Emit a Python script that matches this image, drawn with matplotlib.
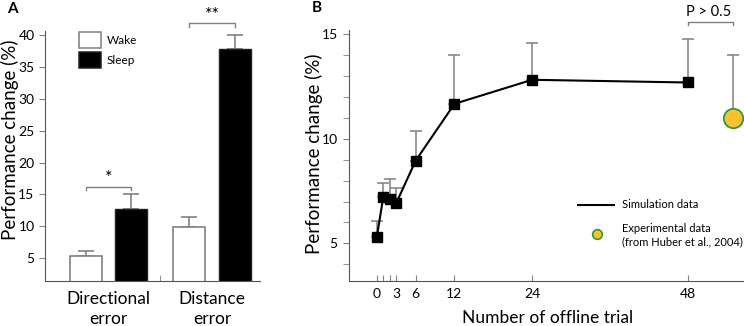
import matplotlib
import matplotlib.pyplot as plt
import numpy as np
from matplotlib.lines import Line2D
from matplotlib.patches import Rectangle

matplotlib.use("Agg")

plt.rcParams["font.family"] = ["Lato", "DejaVu Sans"]

# ---- panel A data ----
GROUPS = ["Directional\nerror", "Distance\nerror"]
WAKE_MEAN = [5.3, 9.9]
WAKE_ERR = [0.8, 1.5]
SLEEP_MEAN = [12.7, 37.9]
SLEEP_ERR = [2.3, 2.1]
SIG_LABELS = ["*", "**"]
SIG_Y = [16.2, 41.9]

# ---- panel B data ----
SIM_TRIAL = [0, 1, 2, 3, 6, 12, 24, 48]
SIM_MEAN = [5.29, 7.21, 7.10, 6.92, 8.95, 11.67, 12.82, 12.69]
SIM_ERR = [0.79, 0.67, 0.96, 0.74, 1.43, 2.32, 1.75, 2.07]
EXP_TRIAL = [55]
EXP_MEAN = [10.98]
EXP_ERR = [3.01]
B_TICKS = [0, 1, 2, 3, 6, 12, 24, 48]
B_TICK_LABELS = ["0", "", "", "3", "6", "12", "24", "48"]

GRAY = "#808080"
YELLOW = "#FBC02D"
GREEN = "#2E9A3C"
W, H = 744, 326


def fx(px):
    return px / W


def fy(py):
    return 1 - py / H


fig = plt.figure(figsize=(7.44, 3.26), dpi=100)

# ================= Panel A =================
axA = fig.add_axes([0.0605, 0.138, 0.289, 0.767])
x = np.arange(len(GROUPS))
off, bw = 0.22, 0.31
axA.bar(x - off, WAKE_MEAN, width=bw, color="white", edgecolor=GRAY,
        linewidth=1.2, zorder=2)
axA.bar(x + off, SLEEP_MEAN, width=bw, color="black", edgecolor="#222222",
        linewidth=1.0, zorder=2)
axA.errorbar(x - off, WAKE_MEAN, yerr=[np.zeros(2), WAKE_ERR], fmt="none",
             ecolor=GRAY, elinewidth=1.2, capsize=5.5, capthick=1.2, zorder=1)
axA.errorbar(x + off, SLEEP_MEAN, yerr=[np.zeros(2), SLEEP_ERR], fmt="none",
             ecolor=GRAY, elinewidth=1.2, capsize=5.5, capthick=1.2, zorder=1)

for i, lab in enumerate(SIG_LABELS):
    yb = SIG_Y[i]
    axA.plot([x[i] - off, x[i] - off, x[i] + off, x[i] + off],
             [yb - 0.5, yb, yb, yb - 0.5], color=GRAY, lw=1.0, clip_on=False)
    axA.text(x[i], yb + 0.1, lab, ha="center", va="bottom", fontsize=13)

axA.set_xlim(-0.614, 1.464)
axA.set_ylim(1.4, 40.7)
axA.set_yticks([5, 10, 15, 20, 25, 30, 35, 40])
axA.set_xticks(x)
axA.set_xticklabels(GROUPS, fontsize=12.5, linespacing=1.3)
axA.set_xticks([0.5], minor=True)
axA.tick_params(axis="x", which="major", length=0, pad=7)
axA.tick_params(axis="x", which="minor", length=4, direction="in", color=GRAY)
axA.tick_params(axis="y", labelsize=10, length=4, color=GRAY)
for s in ["top", "right"]:
    axA.spines[s].set_visible(False)
for s in ["left", "bottom"]:
    axA.spines[s].set_color("#555555")
fig.text(fx(10), fy(140), "Performance change (%)", rotation=90,
         ha="center", va="center", fontsize=13.5)

# legend A (hand placed)
for (lab, fc, ec, y0) in [("Wake", "white", GRAY, 32), ("Sleep", "black", "#222222", 52)]:
    fig.add_artist(Rectangle((fx(79), fy(y0 + 16)), fx(101) - fx(79),
                             fy(y0) - fy(y0 + 16), facecolor=fc, edgecolor=ec,
                             linewidth=1.1, transform=fig.transFigure))
    fig.text(fx(107), fy(y0 + 8), lab, ha="left", va="center", fontsize=8.5)
fig.text(fx(7), fy(9), "A", fontsize=11, fontweight="bold", va="center")

# ================= Panel B =================
axB = fig.add_axes([0.469, 0.138, 0.53, 0.77])
axB.errorbar(SIM_TRIAL, SIM_MEAN, yerr=[np.zeros(len(SIM_ERR)), SIM_ERR],
             fmt="none", ecolor=GRAY, elinewidth=1.1, capsize=4.5, capthick=1.1,
             zorder=1)
axB.plot(SIM_TRIAL, SIM_MEAN, color="black", lw=1.5, marker="s", ms=7,
         mfc="black", mec="black", zorder=3)
axB.errorbar(EXP_TRIAL, EXP_MEAN, yerr=[np.zeros(1), EXP_ERR], fmt="none",
             ecolor=GRAY, elinewidth=1.1, capsize=4.5, capthick=1.1, zorder=1,
             clip_on=False)
axB.plot(EXP_TRIAL, EXP_MEAN, ls="none", marker="o", ms=14, mfc=YELLOW,
         mec=GREEN, mew=1.3, zorder=4, clip_on=False)

# significance bracket 48 vs experimental
yb = 15.57
axB.plot([SIM_TRIAL[-1], SIM_TRIAL[-1], EXP_TRIAL[0], EXP_TRIAL[0]],
         [yb - 0.15, yb, yb, yb - 0.15], color=GRAY, lw=1.0, clip_on=False)
fig.text(fx(709), fy(11.7), "P > 0.5", ha="center", va="center", fontsize=10.5)

axB.set_xlim(-4.3, 56.6)
axB.set_ylim(3.2, 15.2)
axB.set_yticks([5, 10, 15])
axB.set_yticks(np.arange(4, 16), minor=True)
axB.set_xticks(B_TICKS)
axB.set_xticklabels(B_TICK_LABELS)
axB.tick_params(axis="x", direction="in", length=4.5, labelsize=10,
                color=GRAY, pad=5)
axB.tick_params(axis="y", which="both", length=4.5, labelsize=10, color=GRAY)
for s in ["top", "right"]:
    axB.spines[s].set_visible(False)
for s in ["left", "bottom"]:
    axB.spines[s].set_color("#555555")
fig.text(fx(314), fy(154), "Performance change (%)", rotation=90,
         ha="center", va="center", fontsize=13.5)
fig.text(fx(548), fy(323), "Number of offline trial", ha="center",
         va="baseline", fontsize=12.5)

# legend B (hand placed)
fig.add_artist(Line2D([fx(578), fx(614)], [fy(205), fy(205)], color="black",
                      lw=1.5, transform=fig.transFigure))
fig.text(fx(622), fy(205), "Simulation data", ha="left", va="center", fontsize=8)
fig.add_artist(Line2D([fx(597)], [fy(234)], ls="none", marker="o", ms=7,
                      mfc=YELLOW, mec=GREEN, mew=1.2,
                      transform=fig.transFigure))
fig.text(fx(622), fy(228), "Experimental data", ha="left", va="center",
         fontsize=8)
fig.text(fx(622), fy(242), "(from Huber et al., 2004)", ha="left",
         va="center", fontsize=8)
fig.text(fx(312), fy(8), "B", fontsize=11, fontweight="bold", va="center")

fig.savefig("out.png", dpi=100)
